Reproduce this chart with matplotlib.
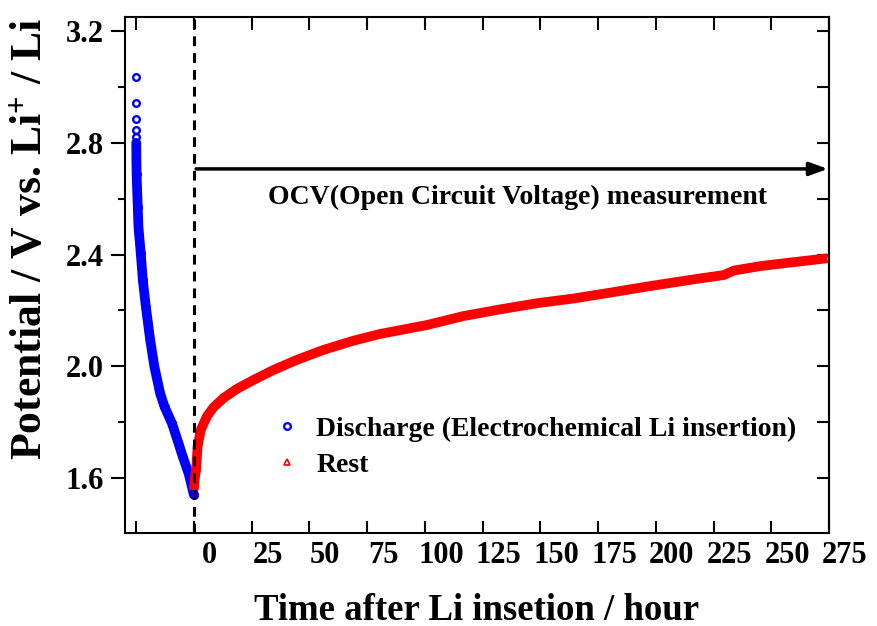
import matplotlib
matplotlib.use("Agg")
import matplotlib.pyplot as plt
from matplotlib.ticker import MultipleLocator, FixedLocator
from matplotlib.transforms import ScaledTranslation

# Donnees (temps en heures, potentiel en V)
discharge_t = [-25.0, -25.0, -25.0, -24.98, -24.96, -24.94, -24.92, -24.9, -24.88, -24.85,
               -24.8, -24.3, -24.0, -23.0, -22.1, -20.8, -18.9, -17.1, -14.6, -12.7,
               -9.5, -7.1, -4.8, -2.3, 0.0]
discharge_v = [3.037, 2.942, 2.884, 2.848, 2.82, 2.80, 2.78, 2.76, 2.74, 2.72,
               2.69, 2.572, 2.50, 2.405, 2.309, 2.214, 2.094, 1.999, 1.903, 1.855,
               1.796, 1.736, 1.676, 1.617, 1.540]

rest_t = [0.0, 0.3, 0.6, 1.0, 1.6, 3.0, 5.6, 8.5, 12.8, 18.6, 25.8, 34.5, 44.6, 56.2,
          69.2, 80.7, 101, 116.8, 132.7, 148.6, 164.5, 180.4, 190.5, 205, 219.4, 229.5,
          233.8, 245.4, 255.5, 274.3]
rest_v = [1.557, 1.59, 1.61, 1.629, 1.712, 1.772, 1.82, 1.853, 1.886, 1.919, 1.951,
          1.987, 2.023, 2.059, 2.092, 2.116, 2.148, 2.180, 2.204, 2.226, 2.243, 2.264,
          2.278, 2.297, 2.315, 2.327, 2.343, 2.359, 2.369, 2.387]

x_ticks = [-25, 0, 25, 50, 75, 100, 125, 150, 175, 200, 225, 250, 275]
x_labels = ["", "0", "25", "50", "75", "100", "125", "150", "175", "200", "225", "250", "275"]

plt.rcParams["font.family"] = "Liberation Serif"
plt.rcParams["font.weight"] = "bold"
plt.rcParams["mathtext.fontset"] = "custom"
plt.rcParams["mathtext.rm"] = "Liberation Serif:bold"
plt.rcParams["mathtext.bf"] = "Liberation Serif:bold"
plt.rcParams["mathtext.default"] = "bf"

fig = plt.figure(figsize=(8.78, 6.26), dpi=100)
ax = fig.add_axes([0.1424, 0.1486, 0.8018, 0.8242])

# marqueurs puis bandes epaisses par-dessus
ax.plot(discharge_t, discharge_v, ls="none", marker="o", ms=4.8, mfc="white", mec="blue",
        mew=1.7, zorder=2, label="Discharge (Electrochemical Li insertion)")
ax.plot(discharge_t[5:], discharge_v[5:], color="blue", lw=7, solid_capstyle="round", zorder=3)
ax.plot(rest_t, rest_v, ls="none", marker="^", ms=5, mfc="white", mec="red",
        mew=1.2, zorder=2, label="Rest")
ax.plot(rest_t, rest_v, color="red", lw=7, solid_capstyle="butt", solid_joinstyle="round",
        zorder=3)

# ligne pointillee debut OCV
ax.axvline(0, color="black", ls=(0, (3.2, 2.3)), lw=2.2, zorder=4)

# fleche OCV
ax.annotate("", xy=(274.5, 2.707), xytext=(1.0, 2.707),
            arrowprops=dict(arrowstyle="-|>,head_length=1.1,head_width=0.4",
                            color="black", lw=2.5, shrinkA=0, shrinkB=0))
ax.text(140, 2.606, "OCV(Open Circuit Voltage) measurement", ha="center", va="center",
        fontsize=20, fontweight="bold")

ax.set_xlim(-29.8, 275)
ax.set_ylim(1.403, 3.251)

ax.xaxis.set_major_locator(FixedLocator(x_ticks))
ax.set_xticklabels(x_labels)
ax.tick_params(axis="x", which="major", direction="in", length=9, width=1.5, top=True,
               labelsize=22, pad=6)
for lab in ax.get_xticklabels():
    lab.set_transform(lab.get_transform() + ScaledTranslation(0.16, 0, fig.dpi_scale_trans))

ax.yaxis.set_major_locator(MultipleLocator(0.4))
ax.yaxis.set_minor_locator(MultipleLocator(0.2))
ax.tick_params(axis="y", which="major", direction="out", length=10, width=1.5, labelsize=22, pad=5)
ax.tick_params(axis="y", which="minor", direction="out", length=5, width=1.5)
ax.set_yticklabels([f"{v:.1f}" for v in ax.get_yticks()])

sec = ax.secondary_yaxis("right")
sec.yaxis.set_major_locator(MultipleLocator(0.2))
sec.tick_params(direction="in", length=9, width=1.5, labelright=False)

for s in ax.spines.values():
    s.set_linewidth(1.5)
sec.spines["right"].set_linewidth(1.5)

ax.set_xlabel("Time after Li insetion / hour", fontsize=26.5, fontweight="bold", labelpad=16)
ax.set_ylabel("Potential / V vs. Li$^{+}$ / Li", fontsize=31.5, fontweight="bold")
ax.yaxis.set_label_coords(-0.106, 0.57)

ax.legend(loc="upper left", bbox_to_anchor=(0.175, 0.274), frameon=False, fontsize=20,
          handlelength=1.0, handletextpad=0.55, labelspacing=0.38, markerscale=1.0)

fig.savefig("out.png", dpi=100)
